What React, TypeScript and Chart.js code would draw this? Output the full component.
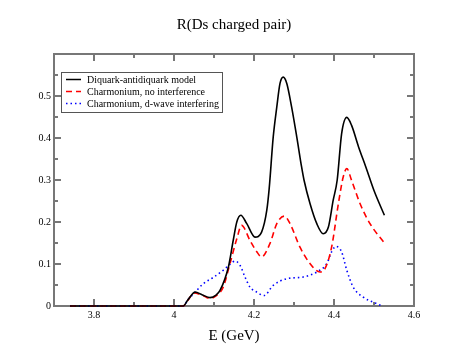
import { useEffect, useRef } from "react";
import { Chart, registerables } from "chart.js";

Chart.register(...registerables);

const chartTitle = "R(Ds charged pair)";
const xAxisTitle = "E (GeV)";
const seriesNames = [
  "Diquark-antidiquark model",
  "Charmonium, no interference",
  "Charmonium, d-wave interfering",
];

const xTickValues = [3.8, 4.0, 4.2, 4.4, 4.6];
const xTickLabels = ["3.8", "4", "4.2", "4.4", "4.6"];
const xMinorTicks = [3.7, 3.9, 4.1, 4.3, 4.5];
const yTickValues = [0, 0.1, 0.2, 0.3, 0.4, 0.5];
const yTickLabels = ["0", "0.1", "0.2", "0.3", "0.4", "0.5"];
const yMinorTicks = [0.05, 0.15, 0.25, 0.35, 0.45, 0.55];

const diquarkE = [3.74, 4.0, 4.023, 4.035, 4.053, 4.07, 4.09, 4.105, 4.115, 4.136, 4.148, 4.157, 4.167, 4.182, 4.2025, 4.219, 4.232, 4.238, 4.248, 4.257, 4.265, 4.273, 4.282, 4.294, 4.307, 4.319, 4.325, 4.34, 4.357, 4.373, 4.386, 4.398, 4.408, 4.419, 4.432, 4.444, 4.461, 4.48, 4.5, 4.526];
const diquarkR = [0, 0, 0, 0.015, 0.033, 0.027, 0.02, 0.026, 0.037, 0.093, 0.156, 0.2, 0.216, 0.196, 0.164, 0.176, 0.228, 0.28, 0.402, 0.474, 0.53, 0.545, 0.53, 0.474, 0.402, 0.331, 0.3, 0.244, 0.196, 0.172, 0.188, 0.252, 0.3, 0.41, 0.449, 0.43, 0.38, 0.33, 0.275, 0.216];

const noInterfE = [3.74, 4.0, 4.023, 4.035, 4.05, 4.07, 4.09, 4.105, 4.123, 4.14, 4.157, 4.169, 4.19, 4.207, 4.219, 4.24, 4.257, 4.276, 4.29, 4.315, 4.34, 4.365, 4.3775, 4.394, 4.411, 4.423, 4.432, 4.444, 4.465, 4.49, 4.526];
const noInterfR = [0, 0, 0, 0.014, 0.031, 0.026, 0.018, 0.024, 0.045, 0.101, 0.16, 0.192, 0.156, 0.129, 0.117, 0.149, 0.196, 0.214, 0.196, 0.14, 0.101, 0.081, 0.089, 0.14, 0.244, 0.307, 0.327, 0.299, 0.244, 0.196, 0.15];

const dWaveE = [3.74, 4.0, 4.023, 4.035, 4.053, 4.073, 4.098, 4.123, 4.14, 4.1525, 4.165, 4.1775, 4.19, 4.207, 4.225, 4.248, 4.282, 4.323, 4.357, 4.382, 4.394, 4.405, 4.419, 4.432, 4.448, 4.473, 4.503, 4.52];
const dWaveR = [0, 0, 0, 0.015, 0.033, 0.053, 0.068, 0.085, 0.099, 0.107, 0.097, 0.069, 0.045, 0.033, 0.025, 0.049, 0.065, 0.069, 0.081, 0.101, 0.129, 0.142, 0.129, 0.085, 0.045, 0.021, 0.007, 0];

const seriesColors = ["#000000", "#ff0000", "#0000ff"];
const seriesDashes: number[][] = [[], [6, 4], [1.5, 3]];

const SERIF = '"Liberation Serif", "Times New Roman", serif';

const framePlugin = {
  id: "framePlugin",
  beforeDatasetsDraw(chart: any) {
    const { ctx, chartArea: a, scales } = chart;
    const xs = scales.x;
    const ys = scales.y;
    ctx.save();
    ctx.strokeStyle = "#777777";
    ctx.lineWidth = 2;
    ctx.strokeRect(a.left, a.top, a.right - a.left, a.bottom - a.top);
    const major = 7;
    const minor = 4;
    ctx.beginPath();
    const xt = (v: number, len: number) => {
      const px = xs.getPixelForValue(v);
      ctx.moveTo(px, a.bottom);
      ctx.lineTo(px, a.bottom - len);
      ctx.moveTo(px, a.top);
      ctx.lineTo(px, a.top + len);
    };
    const yt = (v: number, len: number) => {
      const py = ys.getPixelForValue(v);
      ctx.moveTo(a.left, py);
      ctx.lineTo(a.left + len, py);
      ctx.moveTo(a.right, py);
      ctx.lineTo(a.right - len, py);
    };
    xTickValues.forEach((v) => xt(v, major));
    xMinorTicks.forEach((v) => xt(v, minor));
    yTickValues.forEach((v) => yt(v, major));
    yMinorTicks.forEach((v) => yt(v, minor));
    ctx.stroke();
    ctx.restore();
  },
  afterDraw(chart: any) {
    const { ctx, chartArea: a } = chart;
    ctx.save();
    ctx.fillStyle = "#000";
    ctx.textAlign = "center";
    ctx.textBaseline = "middle";
    ctx.font = `15px ${SERIF}`;
    const cx = (a.left + a.right) / 2;
    ctx.fillText(chartTitle, cx, 25);
    ctx.fillText(xAxisTitle, cx, 336);

    // legend
    const bx = 61, by = 72, bw = 161, bh = 40;
    ctx.fillStyle = "#fff";
    ctx.fillRect(bx, by, bw, bh);
    ctx.strokeStyle = "#555";
    ctx.lineWidth = 1;
    ctx.strokeRect(bx + 0.5, by + 0.5, bw, bh);
    ctx.font = `10px ${SERIF}`;
    ctx.textAlign = "left";
    chart.data.datasets.forEach((ds: any, i: number) => {
      const yy = 79.5 + i * 12;
      ctx.strokeStyle = ds.borderColor;
      ctx.lineWidth = 1.5;
      ctx.setLineDash(ds.borderDash || []);
      ctx.beginPath();
      ctx.moveTo(66, yy);
      ctx.lineTo(81, yy);
      ctx.stroke();
      ctx.setLineDash([]);
      ctx.fillStyle = "#000";
      ctx.fillText(ds.label, 87, yy + 0.5);
    });
    ctx.restore();
  },
};

export default function App() {
  const ref = useRef<HTMLCanvasElement>(null);
  useEffect(() => {
    if (!ref.current) return;
    const sets = [
      [diquarkE, diquarkR],
      [noInterfE, noInterfR],
      [dWaveE, dWaveR],
    ];
    const chart = new Chart(ref.current, {
      type: "line",
      data: {
        datasets: sets.map(([es, rs], i) => ({
          label: seriesNames[i],
          data: es.map((e, k) => ({ x: e, y: rs[k] })),
          borderColor: seriesColors[i],
          borderDash: seriesDashes[i],
          borderWidth: 1.6,
          pointRadius: 0,
          fill: false,
          clip: false,
          cubicInterpolationMode: "monotone" as const,
        })),
      },
      options: {
        responsive: false,
        animation: false,
        layout: { padding: { left: 0, right: 52, top: 54, bottom: 0 } },
        plugins: {
          legend: { display: false },
          title: { display: false },
          tooltip: { enabled: false },
        },
        scales: {
          x: {
            type: "linear",
            min: 3.7,
            max: 4.6,
            grid: { display: false, drawTicks: false },
            border: { display: false },
            afterFit: (s: any) => {
              s.height = 54;
            },
            afterBuildTicks: (s: any) => {
              s.ticks = xTickValues.map((v) => ({ value: v }));
            },
            ticks: {
              callback: (_v: any, i: number) => xTickLabels[i],
              font: { family: SERIF, size: 10 },
              color: "#000",
              padding: 3,
              maxRotation: 0,
              autoSkip: false,
            },
          },
          y: {
            type: "linear",
            min: 0,
            max: 0.6,
            grid: { display: false, drawTicks: false },
            border: { display: false },
            afterFit: (s: any) => {
              s.width = 54;
            },
            afterBuildTicks: (s: any) => {
              s.ticks = yTickValues.map((v) => ({ value: v }));
            },
            ticks: {
              callback: (_v: any, i: number) => yTickLabels[i],
              font: { family: SERIF, size: 10 },
              color: "#000",
              padding: 3,
              autoSkip: false,
            },
          },
        },
      },
      plugins: [framePlugin],
    });
    return () => chart.destroy();
  }, []);
  return (
    <div style={{ position: "fixed", left: 0, top: 0, width: 466, height: 360, background: "#fff" }}>
      <canvas ref={ref} width={466} height={360} />
    </div>
  );
}
